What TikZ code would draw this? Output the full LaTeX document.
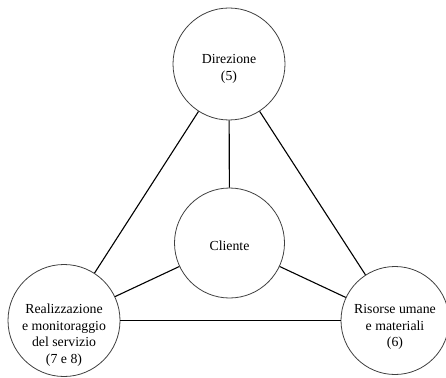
\documentclass[tikz,border=0pt]{standalone}
\usepackage{fontspec}
\setmainfont{Liberation Serif}
\begin{document}
\begin{tikzpicture}[x=1pt,y=-1pt,
  blob/.style={draw=black!75,line width=0.8pt,circle,inner sep=0pt,minimum size=#1},
  txt/.style={align=center,font=\fontsize{13.8}{16.5}\selectfont,inner sep=0pt},
  conn/.style={draw=black,line width=1.1pt}]
\useasboundingbox (0,0) rectangle (446,377);
\node[blob=112pt] (dir) at (229,64) {};
\node[blob=110pt] (cli) at (229.5,243) {};
\node[blob=112pt] (rea) at (64,320.5) {};
\node[blob=108pt] (ris) at (395,320.5) {};
\node[txt] (tdir) at (229,69) {Direzione\\(5)};
\node[txt] (tcli) at (229.5,246) {Cliente};
\node[txt] (trea) at (64,335) {Realizzazione\\e monitoraggio\\del servizio\\(7 e 8)};
\node[txt] (tris) at (395,327) {Risorse umane\\e materiali\\(6)};
\draw[conn] (dir) -- (cli);
\draw[conn] (dir) -- (rea);
\draw[conn] (dir) -- (ris);
\draw[conn] (cli) -- (rea);
\draw[conn] (cli) -- (ris);
\draw[conn] (rea) -- (ris);
\end{tikzpicture}
\end{document}
